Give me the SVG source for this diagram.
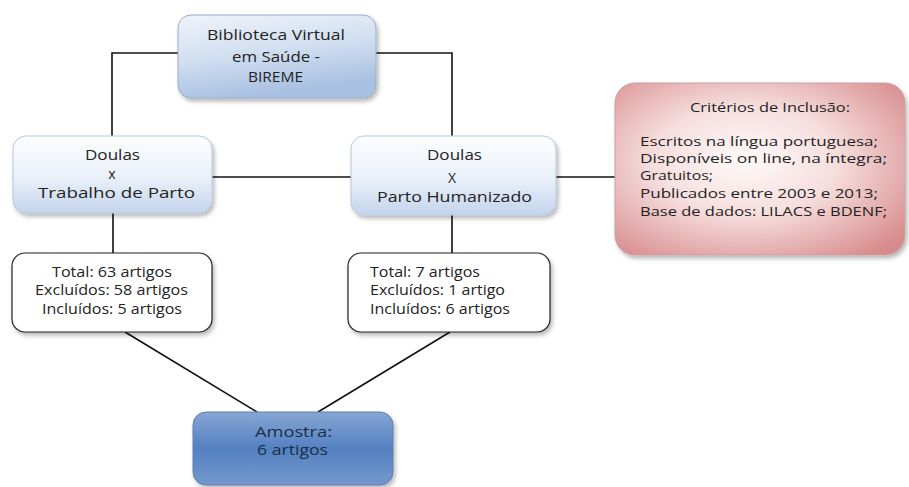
<svg xmlns="http://www.w3.org/2000/svg" width="909" height="487" viewBox="0 0 909 487">
<defs>
<style>
text{font-family:"Open Sans","Liberation Sans",sans-serif;font-size:14px;fill:#232323;}
.sm{font-size:13px;}
.dk{fill:#1a2c4a;}
.conn{fill:none;stroke:#111;stroke-width:1.6;}
</style>
<linearGradient id="gTop" x1="0" y1="0" x2="0.3" y2="1">
<stop offset="0" stop-color="#eef3fa"/>
<stop offset="0.5" stop-color="#d3e0f1"/>
<stop offset="1" stop-color="#a8c0e2"/>
</linearGradient>
<linearGradient id="gDou" x1="0" y1="0" x2="0" y2="1">
<stop offset="0" stop-color="#fdfeff"/>
<stop offset="0.55" stop-color="#e9f0f9"/>
<stop offset="1" stop-color="#c3d4ec"/>
</linearGradient>
<radialGradient id="gCrit" cx="0.45" cy="0.45" r="0.7">
<stop offset="0" stop-color="#fff9f9"/>
<stop offset="0.45" stop-color="#f6dede"/>
<stop offset="1" stop-color="#d88b8c"/>
</radialGradient>
<linearGradient id="gAmo" x1="0" y1="0" x2="0" y2="1">
<stop offset="0" stop-color="#86a6d4"/>
<stop offset="0.5" stop-color="#5481c1"/>
<stop offset="1" stop-color="#7498cc"/>
</linearGradient>
<filter id="sh" x="-10%" y="-10%" width="125%" height="130%">
<feDropShadow dx="2" dy="3" stdDeviation="2" flood-color="#000" flood-opacity="0.28"/>
</filter>
</defs>
<rect width="909" height="487" fill="#fff"/>
<g id="connectors">
<path class="conn" d="M178,53 H112 V136"/>
<path class="conn" d="M376,53 H452 V136"/>
<path class="conn" d="M212,177 H351"/>
<path class="conn" d="M556,177 H615"/>
<path class="conn" d="M113,213 V253"/>
<path class="conn" d="M452,215 V253"/>
<path class="conn" d="M125,332 L257,412"/>
<path class="conn" d="M450,332 L318,412"/>
</g>
<g id="bireme">
<rect x="178" y="15" width="198" height="83" rx="13" fill="url(#gTop)" stroke="#9aaec8" stroke-width="1" filter="url(#sh)"/>
<text x="207" y="40" textLength="138" lengthAdjust="spacingAndGlyphs">Biblioteca Virtual</text>
<text x="232" y="62" textLength="88" lengthAdjust="spacingAndGlyphs">em Saúde -</text>
<text x="248" y="82" textLength="55" lengthAdjust="spacingAndGlyphs">BIREME</text>
</g>
<g id="doulas-trabalho">
<rect x="13" y="136" width="199" height="77" rx="13" fill="url(#gDou)" stroke="#b9c8dc" stroke-width="1" filter="url(#sh)"/>
<text x="85" y="160" textLength="55" lengthAdjust="spacingAndGlyphs">Doulas</text>
<text x="112" y="179" text-anchor="middle" font-size="13">x</text>
<text x="38" y="198" textLength="157" lengthAdjust="spacingAndGlyphs">Trabalho de Parto</text>
</g>
<g id="doulas-parto">
<rect x="351" y="136" width="205" height="79" rx="13" fill="url(#gDou)" stroke="#b9c8dc" stroke-width="1" filter="url(#sh)"/>
<text x="427" y="160" textLength="55" lengthAdjust="spacingAndGlyphs">Doulas</text>
<text x="452" y="183" text-anchor="middle">X</text>
<text x="377" y="202" textLength="155" lengthAdjust="spacingAndGlyphs">Parto Humanizado</text>
</g>
<g id="criterios">
<rect x="615" y="83" width="290" height="172" rx="20" fill="url(#gCrit)" stroke="#c9a0a2" stroke-width="1" filter="url(#sh)"/>
<text class="sm" x="690" y="112" textLength="160" lengthAdjust="spacingAndGlyphs">Critérios de Inclusão:</text>
<text class="sm" x="640" y="146" textLength="238" lengthAdjust="spacingAndGlyphs">Escritos na língua portuguesa;</text>
<text class="sm" x="640" y="163" textLength="247" lengthAdjust="spacingAndGlyphs">Disponíveis on line, na íntegra;</text>
<text class="sm" x="640" y="180" textLength="73" lengthAdjust="spacingAndGlyphs">Gratuitos;</text>
<text class="sm" x="640" y="198" textLength="238" lengthAdjust="spacingAndGlyphs">Publicados entre 2003 e 2013;</text>
<text class="sm" x="640" y="216" textLength="247" lengthAdjust="spacingAndGlyphs">Base de dados: LILACS e BDENF;</text>
</g>
<g id="resultado-trabalho">
<rect x="12" y="253" width="200" height="79" rx="13" fill="#fff" stroke="#222" stroke-width="1.2" filter="url(#sh)"/>
<text x="52" y="277" textLength="120" lengthAdjust="spacingAndGlyphs">Total: 63 artigos</text>
<text x="35" y="295" textLength="153" lengthAdjust="spacingAndGlyphs">Excluídos: 58 artigos</text>
<text x="42" y="314" textLength="140" lengthAdjust="spacingAndGlyphs">Incluídos: 5 artigos</text>
</g>
<g id="resultado-parto">
<rect x="348" y="253" width="202" height="79" rx="13" fill="#fff" stroke="#222" stroke-width="1.2" filter="url(#sh)"/>
<text x="370" y="277" textLength="110" lengthAdjust="spacingAndGlyphs">Total: 7 artigos</text>
<text x="370" y="295" textLength="135" lengthAdjust="spacingAndGlyphs">Excluídos: 1 artigo</text>
<text x="370" y="314" textLength="140" lengthAdjust="spacingAndGlyphs">Incluídos: 6 artigos</text>
</g>
<g id="amostra">
<rect x="193" y="412" width="200" height="73" rx="13" fill="url(#gAmo)" stroke="#5d7fae" stroke-width="1" filter="url(#sh)"/>
<text class="dk" x="255" y="437" textLength="77" lengthAdjust="spacingAndGlyphs">Amostra:</text>
<text class="dk" x="257" y="455" textLength="71" lengthAdjust="spacingAndGlyphs">6 artigos</text>
</g>
</svg>
